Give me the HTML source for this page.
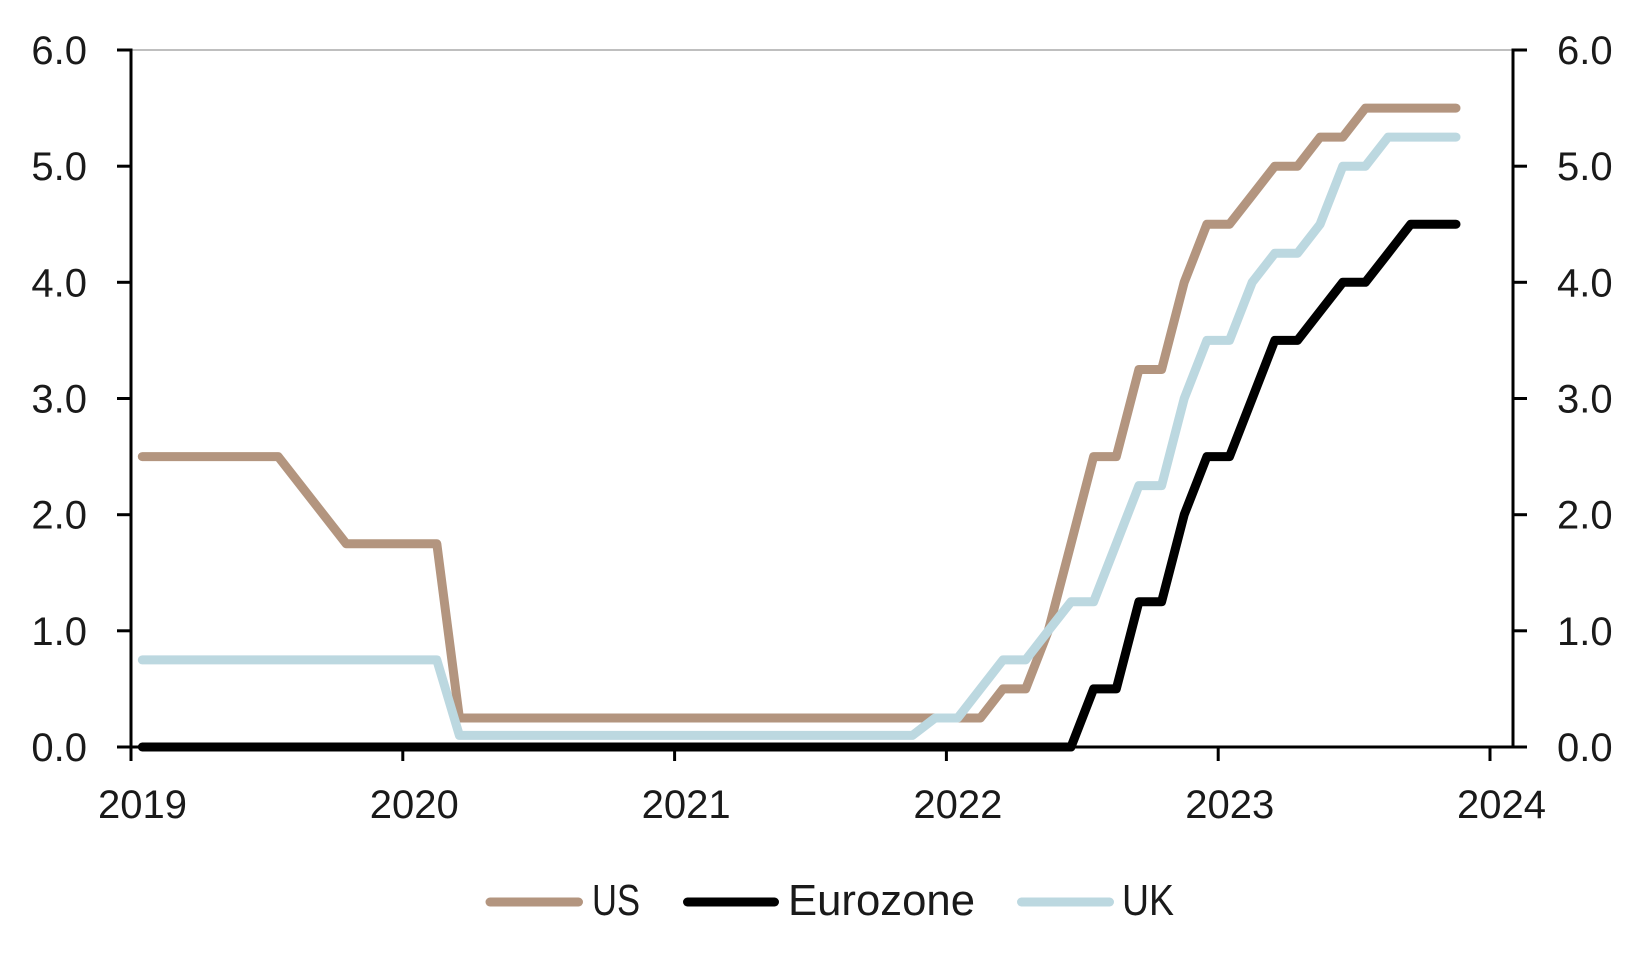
<!DOCTYPE html>
<html><head><meta charset="utf-8"><style>
html,body{margin:0;padding:0;background:#fff;}
svg{display:block;}
text{font-family:"Liberation Sans",sans-serif;fill:#1a1a1a;}
</style></head><body>
<svg width="1645" height="970" viewBox="0 0 1645 970" xmlns="http://www.w3.org/2000/svg">
<rect width="1645" height="970" fill="#fff"/>
<!-- top gridline -->
<line x1="131" y1="50" x2="1513" y2="50" stroke="#bfbfbf" stroke-width="2"/>
<!-- axes -->
<g stroke="#000" stroke-width="3" fill="none">
<line x1="131" y1="48.5" x2="131" y2="761"/>
<line x1="1513" y1="48.5" x2="1513" y2="748.5"/>
<line x1="117" y1="747" x2="1527" y2="747"/>
<!-- left ticks -->
<line x1="117" y1="50" x2="131" y2="50"/>
<line x1="117" y1="166.2" x2="131" y2="166.2"/>
<line x1="117" y1="282.3" x2="131" y2="282.3"/>
<line x1="117" y1="398.5" x2="131" y2="398.5"/>
<line x1="117" y1="514.7" x2="131" y2="514.7"/>
<line x1="117" y1="630.8" x2="131" y2="630.8"/>
<!-- right ticks -->
<line x1="1513" y1="50" x2="1527" y2="50"/>
<line x1="1513" y1="166.2" x2="1527" y2="166.2"/>
<line x1="1513" y1="282.3" x2="1527" y2="282.3"/>
<line x1="1513" y1="398.5" x2="1527" y2="398.5"/>
<line x1="1513" y1="514.7" x2="1527" y2="514.7"/>
<line x1="1513" y1="630.8" x2="1527" y2="630.8"/>
<!-- x ticks -->
<line x1="402.8" y1="747" x2="402.8" y2="761"/>
<line x1="674.6" y1="747" x2="674.6" y2="761"/>
<line x1="946.4" y1="747" x2="946.4" y2="761"/>
<line x1="1218.2" y1="747" x2="1218.2" y2="761"/>
<line x1="1490" y1="747" x2="1490" y2="761"/>
</g>
<!-- y labels left -->
<g font-size="40" text-anchor="end">
<text x="87" y="64">6.0</text>
<text x="87" y="180.2">5.0</text>
<text x="87" y="296.3">4.0</text>
<text x="87" y="412.5">3.0</text>
<text x="87" y="528.7">2.0</text>
<text x="87" y="644.8">1.0</text>
<text x="87" y="761">0.0</text>
</g>
<!-- y labels right -->
<g font-size="40" text-anchor="start">
<text x="1557" y="64">6.0</text>
<text x="1557" y="180.2">5.0</text>
<text x="1557" y="296.3">4.0</text>
<text x="1557" y="412.5">3.0</text>
<text x="1557" y="528.7">2.0</text>
<text x="1557" y="644.8">1.0</text>
<text x="1557" y="761">0.0</text>
</g>
<!-- x labels -->
<g font-size="40" text-anchor="middle">
<text x="142.5" y="818">2019</text>
<text x="414.3" y="818">2020</text>
<text x="686.1" y="818">2021</text>
<text x="957.9" y="818">2022</text>
<text x="1229.7" y="818">2023</text>
<text x="1501.5" y="818">2024</text>
</g>
<!-- series -->
<g fill="none" stroke-width="9" stroke-linecap="round" stroke-linejoin="round">
<polyline stroke="#b3957f" points="142.3,456.6 278.2,456.6 346.2,543.7 436.8,543.7 459.4,718.0 980.4,718.0 1003.0,688.9 1025.7,688.9 1048.3,630.8 1071.0,543.7 1093.6,456.6 1116.3,456.6 1138.9,369.5 1161.6,369.5 1184.2,282.3 1206.9,224.2 1229.5,224.2 1252.2,195.2 1274.8,166.2 1297.5,166.2 1320.1,137.1 1342.8,137.1 1365.4,108.1 1456.0,108.1"/>
<polyline stroke="#000" points="142.3,747 1071.0,747 1093.6,688.9 1116.3,688.9 1138.9,601.8 1161.6,601.8 1184.2,514.7 1206.9,456.6 1229.5,456.6 1252.2,398.5 1274.8,340.4 1297.5,340.4 1320.1,311.4 1342.8,282.3 1365.4,282.3 1388.1,253.3 1410.7,224.2 1456.0,224.2"/>
<polyline stroke="#bcd8e0" points="142.3,659.9 436.8,659.9 459.4,735.4 912.4,735.4 935.1,718.0 957.7,718.0 980.4,688.9 1003.0,659.9 1025.7,659.9 1048.3,630.8 1071.0,601.8 1093.6,601.8 1116.3,543.7 1138.9,485.6 1161.6,485.6 1184.2,398.5 1206.9,340.4 1229.5,340.4 1252.2,282.3 1274.8,253.3 1297.5,253.3 1320.1,224.2 1342.8,166.2 1365.4,166.2 1388.1,137.1 1456.0,137.1"/>
</g>
<!-- legend -->
<g stroke-width="9" stroke-linecap="round">
<line x1="490" y1="902" x2="578.5" y2="902" stroke="#b3957f"/>
<line x1="687.5" y1="902" x2="774.5" y2="902" stroke="#000"/>
<line x1="1021.5" y1="902" x2="1109.5" y2="902" stroke="#bcd8e0"/>
</g>
<g font-size="44">
<text x="592" y="915" textLength="48" lengthAdjust="spacingAndGlyphs">US</text>
<text x="788" y="915" textLength="187" lengthAdjust="spacingAndGlyphs">Eurozone</text>
<text x="1122" y="915" textLength="52" lengthAdjust="spacingAndGlyphs">UK</text>
</g>
</svg>
</body></html>
